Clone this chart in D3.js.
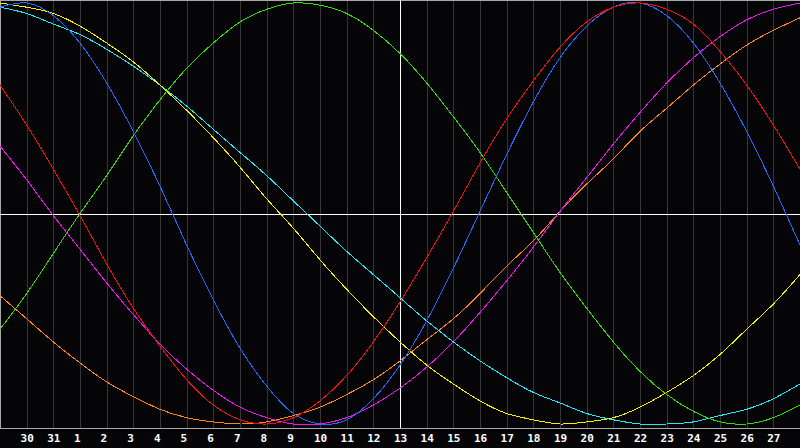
<!DOCTYPE html>
<html>
<head>
<meta charset="utf-8">
<script src="https://cdn.jsdelivr.net/npm/d3@7"></script>
<style>
  html, body { margin: 0; padding: 0; background: #050507; overflow: hidden; }
  svg { display: block; }
</style>
</head>
<body>
<svg id="chart" width="800" height="448"></svg>
<script>
// day of month for each column, first and last are the chart edges
const days = [29, 30, 31, 1, 2, 3, 4, 5, 6, 7, 8, 9, 10, 11, 12, 13, 14, 15, 16, 17, 18, 19, 20, 21, 22, 23, 24, 25, 26, 27, 28];
const today = 13;

// cycle values in percent, read per day off the picture
const physical = [98, 100, 94, 81, 62, 39, 13, -15, -41, -64, -82, -95, -100, -98, -88, -72, -51, -26, 1, 28, 53, 74, 89, 98, 100, 94, 81, 62, 39, 13, -15];
const emotional = [61, 42, 21, -1, -24, -45, -63, -79, -91, -98, -100, -97, -89, -77, -61, -42, -21, 1, 24, 45, 63, 79, 91, 98, 100, 97, 90, 77, 61, 42, 21];
const intellectual = [-55, -38, -19, 0, 18, 37, 54, 69, 81, 91, 97, 100, 99, 95, 87, 76, 62, 46, 29, 10, -9, -28, -45, -61, -75, -86, -94, -99, -100, -97, -91];
const intuitive = [32, 16, -1, -17, -33, -48, -62, -74, -84, -92, -97, -100, -100, -97, -91, -83, -73, -61, -47, -32, -16, 1, 17, 33, 48, 62, 74, 84, 92, 97, 100];
const aesthetic = [100, 98, 95, 89, 81, 72, 61, 49, 36, 22, 7, -7, -22, -36, -49, -61, -72, -81, -89, -95, -98, -100, -99, -97, -92, -85, -77, -67, -55, -43, -29];
const awareness = [-39, -50, -61, -71, -80, -87, -93, -97, -99, -100, -99, -96, -92, -86, -79, -70, -60, -50, -38, -25, -13, 1, 14, 26, 39, 50, 61, 71, 80, 87, 93];
const spiritual = [98, 95, 90, 85, 78, 70, 61, 51, 40, 29, 18, 6, -6, -18, -29, -40, -51, -61, -70, -78, -85, -90, -95, -98, -100, -100, -99, -96, -93, -88, -81];

const cycles = [
    { name: "awareness", values: awareness, color: "#ff8418" },
    { name: "intuitive", values: intuitive, color: "#f010f0" },
    { name: "spiritual", values: spiritual, color: "#20e8f8" },
    { name: "aesthetic", values: aesthetic, color: "#f8f000" },
    { name: "intellectual", values: intellectual, color: "#2ee000" },
    { name: "physical", values: physical, color: "#1c6cff" },
    { name: "emotional", values: emotional, color: "#f01010" }
];

const svg = d3.select("#chart");
const width = 800;
const plotBottom = 428;

const x = d3.scalePoint().domain(days).range([0, width]);
const y = d3.scaleLinear().domain([-100, 100]).range([424, 3]);

svg.append("rect")
    .attr("width", width).attr("height", 448)
    .attr("fill", "#050507");

// day grid
const labelDays = days.slice(1, days.length - 1);
svg.append("g")
    .selectAll("line")
    .data(labelDays)
    .join("line")
    .attr("x1", d => Math.round(x(d)) + 0.5)
    .attr("x2", d => Math.round(x(d)) + 0.5)
    .attr("y1", 0)
    .attr("y2", plotBottom)
    .attr("stroke", "#363636")
    .attr("shape-rendering", "crispEdges");

// frame
svg.append("path")
    .attr("d", `M0.5,${plotBottom + 0.5}V0.5H${width}M0,${plotBottom + 0.5}H${width}`)
    .attr("fill", "none")
    .attr("stroke", "#a8a8a8")
    .attr("shape-rendering", "crispEdges");

// zero line and today marker
const y0 = Math.round(y(0)) + 0.5;
svg.append("line")
    .attr("x1", 0).attr("x2", width)
    .attr("y1", y0).attr("y2", y0)
    .attr("stroke", "#ffffff")
    .attr("shape-rendering", "crispEdges");
svg.append("line")
    .attr("x1", Math.round(x(today)) + 0.5).attr("x2", Math.round(x(today)) + 0.5)
    .attr("y1", 0).attr("y2", plotBottom)
    .attr("stroke", "#ffffff")
    .attr("shape-rendering", "crispEdges");

// cycle curves
const line = d3.line()
    .x((d, i) => x(days[i]))
    .y(d => y(d))
    .curve(d3.curveNatural);

svg.append("g")
    .selectAll("path")
    .data(cycles)
    .join("path")
    .attr("d", d => line(d.values))
    .attr("fill", "none")
    .attr("stroke", d => d.color)
    .attr("stroke-width", 1)
    .attr("shape-rendering", "crispEdges");

// day labels
const axis = svg.append("g")
    .attr("transform", `translate(0,${plotBottom})`)
    .call(d3.axisBottom(x).tickValues(labelDays).tickSize(0).tickPadding(6));

axis.select(".domain").remove();
axis.selectAll("text")
    .attr("text-anchor", "start")
    .attr("x", -6.6)
    .attr("fill", "#ffffff")
    .style("font-family", "'DejaVu Sans Mono', monospace")
    .style("font-weight", "bold")
    .style("font-size", "11px");
</script>
</body>
</html>
